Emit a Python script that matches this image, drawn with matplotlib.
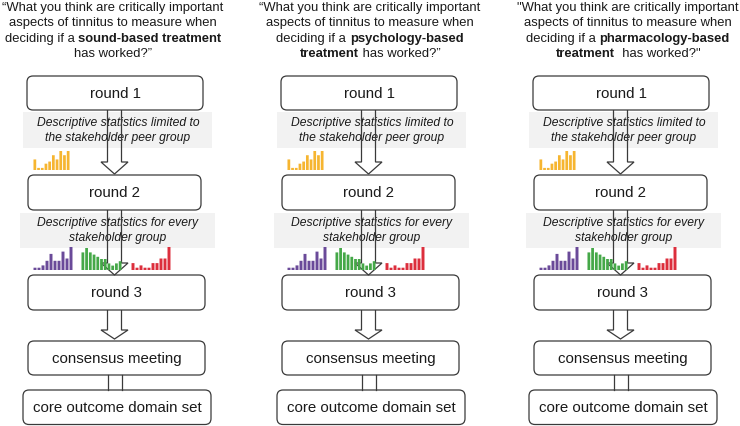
import matplotlib
matplotlib.use("Agg")
import matplotlib.pyplot as plt
from matplotlib.patches import FancyBboxPatch, Rectangle, Polygon

plt.rcParams['font.family'] = ['Liberation Sans', 'DejaVu Sans']

# ---------------- data ----------------
titles = [
    [[("\u201cWhat you think are critically important", "normal")],
     [("aspects of tinnitus to measure when", "normal")],
     [("deciding if a ", "normal"), ("sound-based treatment", "bold")],
     [("has worked?\u201d", "normal")]],
    [[("\u201cWhat you think are critically important", "normal")],
     [("aspects of tinnitus to measure when", "normal")],
     [("deciding if a ", "normal"), ("psychology-based", "bold")],
     [("treatment", "bold"), (" has worked?\u201d", "normal")]],
    [[("\"What you think are critically important", "normal")],
     [("aspects of tinnitus to measure when", "normal")],
     [("deciding if a ", "normal"), ("pharmacology-based", "bold")],
     [("treatment", "bold"), ("  has worked?\"", "normal")]],
]
box_labels = ["round 1", "round 2", "round 3", "consensus meeting", "core outcome domain set"]
band_labels = [["Descriptive statistics limited to", "the stakeholder peer group"],
               ["Descriptive statistics for every", "stakeholder group"]]

peer_values = [5, 1, 1, 3, 4, 7, 5, 9, 7, 9]            # yellow
group_a_values = [1, 1, 2, 4, 7, 4, 4, 8, 5, 10]         # purple
group_b_values = [8, 10, 8, 7, 6, 5, 5, 3, 2, 3, 4]      # green
group_c_values = [3, 1, 2, 1, 1, 3, 3, 5, 5, 10]         # red

colors = {"yellow": "#f6b530", "purple": "#6a4a99", "green": "#45a848", "red": "#dc2e3c"}

# ---------------- layout ----------------
W, H = 740, 426
fig = plt.figure(figsize=(W / 100, H / 100), dpi=100)
ax = fig.add_axes([0, 0, 1, 1])
ax.set_xlim(0, W)
ax.set_ylim(H, 0)
ax.axis("off")
renderer = fig.canvas.get_renderer()

centers = [115, 369, 621]
title_centers = [113, 370, 628]
edge = "#3a3a3a"
txt = "#1a1a1a"


def mixed_line(x, y, segs, size):
    objs = []
    for s, w in segs:
        t = ax.text(0, y, s, fontsize=size, fontweight=w, ha="left", va="baseline", color=txt)
        objs.append(t)
    widths = [t.get_window_extent(renderer).width for t in objs]
    total = sum(widths)
    cur = x - total / 2
    for t, w in zip(objs, widths):
        t.set_x(cur)
        cur += w


def rbox(x0, x1, y0, y1, label, size=10.8):
    p = FancyBboxPatch((x0, y0), x1 - x0, y1 - y0,
                       boxstyle="round,pad=0,rounding_size=6",
                       fc="white", ec=edge, lw=0.9, zorder=3)
    ax.add_patch(p)
    ax.text((x0 + x1) / 2, (y0 + y1) / 2 + 0.5, label, fontsize=size,
            ha="center", va="center", color=txt, zorder=4)


def arrow(cx, ytop, yhead, ytip):
    pts = [(cx - 7.5, ytop), (cx - 7.5, yhead), (cx - 14, yhead), (cx - 0.5, ytip),
           (cx + 13, yhead), (cx + 6.5, yhead), (cx + 6.5, ytop)]
    ax.add_patch(Polygon(pts, closed=False, fill=False, ec=edge, lw=0.9, zorder=6,
                         joinstyle="miter"))


def minibars(x0, x1, ytop, ybase, values, color):
    a = fig.add_axes([x0 / W, 1 - ybase / H, (x1 - x0) / W, (ybase - ytop) / H])
    bars = a.bar(range(len(values)), values, width=0.74, color=color, linewidth=0)
    for b in bars:
        b.set_snap(False)
    a.set_xlim(-0.5, len(values) - 0.5)
    a.set_ylim(0, max(values))
    a.axis("off")
    a.set_zorder(2)


for i, cx in enumerate(centers):
    tc = title_centers[i]
    for j, line in enumerate(titles[i]):
        mixed_line(tc, 11 + j * 15.3, line, 9.35)

    # grey bands
    ax.add_patch(Rectangle((cx - 92, 112), 189, 36, fc="#f2f2f2", ec="none", zorder=1))
    ax.add_patch(Rectangle((cx - 95, 213), 195, 35, fc="#f2f2f2", ec="none", zorder=1))
    for k, yy in enumerate([123, 138]):
        ax.text(cx + 3, yy, band_labels[0][k], fontsize=8.7, style="italic",
                ha="center", va="center", color=txt, zorder=2)
    for k, yy in enumerate([223, 238]):
        ax.text(cx + 3, yy, band_labels[1][k], fontsize=8.7, style="italic",
                ha="center", va="center", color=txt, zorder=2)

    # boxes
    rbox(cx - 88, cx + 88, 76, 110, box_labels[0])
    rbox(cx - 87, cx + 86, 175, 210, box_labels[1])
    rbox(cx - 87, cx + 90, 275, 310, box_labels[2])
    rbox(cx - 87, cx + 90, 341, 375, box_labels[3])
    rbox(cx - 92, cx + 96, 390, 424.5, box_labels[4])

    # arrows
    arrow(cx, 110, 162, 174)
    arrow(cx, 210, 263, 275)
    arrow(cx, 310, 330, 339)
    ax.plot([cx - 7.5, cx - 7.5], [375, 390], color=edge, lw=0.9, zorder=6)
    ax.plot([cx + 6.5, cx + 6.5], [375, 390], color=edge, lw=0.9, zorder=6)

    # mini bar charts
    minibars(cx - 82, cx - 45, 151, 170, peer_values, colors["yellow"])
    minibars(cx - 82, cx - 42, 247, 270, group_a_values, colors["purple"])
    minibars(cx - 34, cx + 7, 248, 270, group_b_values, colors["green"])
    minibars(cx + 16, cx + 56, 247, 270, group_c_values, colors["red"])

fig.savefig("out.png", dpi=100)
